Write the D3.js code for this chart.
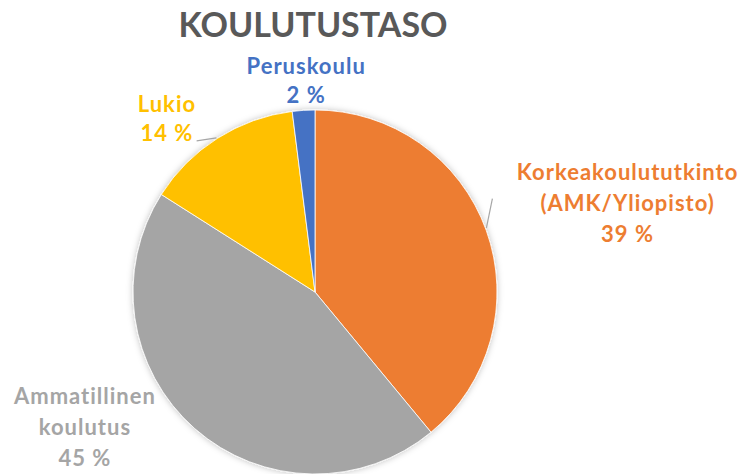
<!DOCTYPE html>
<html>
<head>
<meta charset="utf-8">
<script src="https://cdn.jsdelivr.net/npm/d3@7"></script>
<style>
  body { margin: 0; background: #fff; }
  svg text { font-family: Lato, "Open Sans", sans-serif; font-weight: bold; }
</style>
</head>
<body>
<svg id="chart"></svg>
<script>
// data
const categories = ["Korkeakoulututkinto (AMK/Yliopisto)", "Ammatillinen koulutus", "Lukio", "Peruskoulu"];
const labelLines = [["Korkeakoulututkinto", "(AMK/Yliopisto)"], ["Ammatillinen", "koulutus"], ["Lukio"], ["Peruskoulu"]];
const values = [39, 45, 14, 2];
const colors = ["#ED7D31", "#A5A5A5", "#FFC000", "#4472C4"];
const title = "KOULUTUSTASO";

const width = 741;
const height = 474;
const cx = 315, cy = 292, radius = 182;

const svg = d3.select("#chart")
              .attr("width", width)
              .attr("height", height);

// soft shadow like the office chart
const defs = svg.append("defs");
defs.append("filter")
    .attr("id", "shadow")
    .attr("x", "-20%").attr("y", "-20%")
    .attr("width", "140%").attr("height", "140%")
  .append("feDropShadow")
    .attr("dx", 0).attr("dy", 0)
    .attr("stdDeviation", 3)
    .attr("flood-color", "#000")
    .attr("flood-opacity", 0.25);

svg.append("text")
    .attr("x", 313)
    .attr("y", 37)
    .attr("text-anchor", "middle")
    .attr("fill", "#595959")
    .style("font-size", "34px")
    .text(title);

const pie = d3.pie().sort(null).value(d => d);
const arcs = pie(values);
const arc = d3.arc().innerRadius(0).outerRadius(radius);

const g = svg.append("g").attr("transform", `translate(${cx},${cy})`);

g.append("g")
    .attr("filter", "url(#shadow)")
  .selectAll("path")
  .data(arcs)
  .enter()
  .append("path")
    .attr("d", arc)
    .attr("fill", (d, i) => colors[i])
    .attr("stroke", "#fff")
    .attr("stroke-width", 0.8);

// label placement: angle offset (deg) from slice middle and distance from centre
const labelLayout = [
  {da: 3.9, r: 325, lineStep: 31},
  {da: 18.1, r: 267, lineStep: 31},
  {da: -8.1, r: 228, lineStep: 29},
  {da: 1.2, r: 211, lineStep: 29}
];

function polar(angle, r) {
  return [Math.sin(angle) * r, -Math.cos(angle) * r];
}

g.append("g").selectAll("text")
  .data(arcs)
  .enter()
  .append("text")
    .attr("text-anchor", "middle")
    .attr("fill", (d, i) => colors[i])
    .style("font-size", "22px")
    .style("letter-spacing", "1px")
    .each(function(d, i) {
      const mid = (d.startAngle + d.endAngle) / 2 + labelLayout[i].da * Math.PI / 180;
      const p = polar(mid, labelLayout[i].r);
      const lines = labelLines[i].concat([d.data + " %"]);
      const step = labelLayout[i].lineStep;
      const top = p[1] - (lines.length - 1) * step / 2;
      d3.select(this).selectAll("tspan")
        .data(lines)
        .enter()
        .append("tspan")
          .attr("x", p[0])
          .attr("y", (l, j) => top + j * step)
          .attr("dy", "0.35em")
          .text(l => l);
    });

// leader lines for the two labels that sit away from the pie
const leaders = [
  {a: 69.5, len: 30, tilt: -58},
  {a: 327.4, len: 20, tilt: -66}
];
const leaderLine = d3.line();
g.append("g").selectAll("path")
  .data(leaders)
  .enter()
  .append("path")
    .attr("fill", "none")
    .attr("stroke", "#A6A6A6")
    .attr("stroke-width", 1.2)
    .attr("d", d => {
      const a = d.a * Math.PI / 180;
      const p0 = polar(a, radius + 1);
      const t = (d.a + d.tilt) * Math.PI / 180;
      const p1 = [p0[0] + Math.sin(t) * d.len, p0[1] - Math.cos(t) * d.len];
      return leaderLine([p0, p1]);
    });
</script>
</body>
</html>
